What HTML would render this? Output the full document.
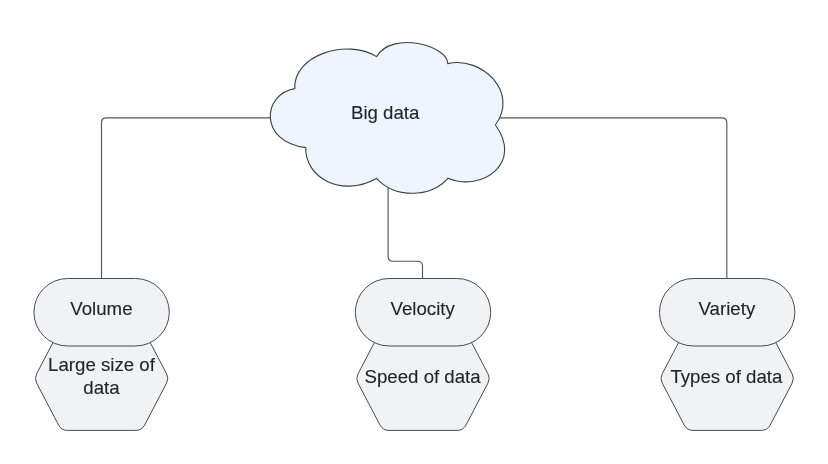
<!DOCTYPE html>
<html>
<head>
<meta charset="utf-8">
<title>Big data</title>
<style>
html,body{margin:0;padding:0;background:#fff;}
body{width:828px;height:464px;overflow:hidden;}
svg{display:block;will-change:transform;}
text{font-family:"Liberation Sans",sans-serif;font-size:18.67px;fill:#202327;stroke:#202327;stroke-width:0.1px;text-anchor:middle;}
.ln{fill:none;stroke:#555555;stroke-width:1.15;}
.sh{fill:#f1f2f4;stroke:#454a51;stroke-width:1;stroke-linejoin:round;}
.cl{fill:#eff5fe;stroke:#3a3f46;stroke-width:1.1;stroke-linejoin:miter;}
</style>
</head>
<body>
<svg width="828" height="464" viewBox="0 0 828 464">
<!-- connectors -->
<path class="ln" d="M271 117.9H106.5Q101.5 117.9 101.5 122.75V278.5"/>
<path class="ln" d="M499 117.9H721.8Q726.8 117.9 726.8 122.75V278.5"/>
<path class="ln" d="M388.1 180V256.2Q388.1 261.2 393.1 261.2H417.5Q422.5 261.2 422.5 266.2V278.5"/>
<!-- cloud -->
<path class="cl" d="M294.8 88.6C292.9 55.0 347.1 38.3 376.6 56.6C392.1 30.5 447.6 45.5 447.8 63.6C481.9 55.9 519.4 92.4 495.4 125C523.5 163 482 192.5 448.0 178.2C431.5 198.2 394 198.4 376.5 178.4C340.5 198.3 305.0 177.0 305.7 147.6C258.2 141.8 262.6 93.8 294.8 88.6Z"/>
<text x="385.2" y="118.9">Big data</text>
<!-- hexagons -->
<path class="sh" d="M58.59 331.86A10.00 10.00 0 0 1 67.45 326.50L135.75 326.50A10.00 10.00 0 0 1 144.61 331.86L166.57 373.81A10.00 10.00 0 0 1 166.57 383.09L144.61 425.04A10.00 10.00 0 0 1 135.75 430.40L67.45 430.40A10.00 10.00 0 0 1 58.59 425.04L36.63 383.09A10.00 10.00 0 0 1 36.63 373.81Z"/>
<path class="sh" d="M379.99 331.86A10.00 10.00 0 0 1 388.85 326.50L457.15 326.50A10.00 10.00 0 0 1 466.01 331.86L487.97 373.81A10.00 10.00 0 0 1 487.97 383.09L466.01 425.04A10.00 10.00 0 0 1 457.15 430.40L388.85 430.40A10.00 10.00 0 0 1 379.99 425.04L358.03 383.09A10.00 10.00 0 0 1 358.03 373.81Z"/>
<path class="sh" d="M684.19 331.86A10.00 10.00 0 0 1 693.05 326.50L761.35 326.50A10.00 10.00 0 0 1 770.21 331.86L792.17 373.81A10.00 10.00 0 0 1 792.17 383.09L770.21 425.04A10.00 10.00 0 0 1 761.35 430.40L693.05 430.40A10.00 10.00 0 0 1 684.19 425.04L662.23 383.09A10.00 10.00 0 0 1 662.23 373.81Z"/>
<!-- pills -->
<rect class="sh" x="33.90" y="278.50" width="135.40" height="67.50" rx="33.75"/>
<rect class="sh" x="355.30" y="278.50" width="135.40" height="67.50" rx="33.75"/>
<rect class="sh" x="659.50" y="278.50" width="135.40" height="67.50" rx="33.75"/>
<text x="101.4" y="315.4">Volume</text>
<text x="422.7" y="315.4">Velocity</text>
<text x="726.9" y="315.4">Variety</text>
<text x="101.5" y="371.0">Large size of</text>
<text x="101.5" y="393.8">data</text>
<text x="422.6" y="383.3">Speed of data</text>
<text x="726.4" y="383.3">Types of data</text>
</svg>
</body>
</html>
